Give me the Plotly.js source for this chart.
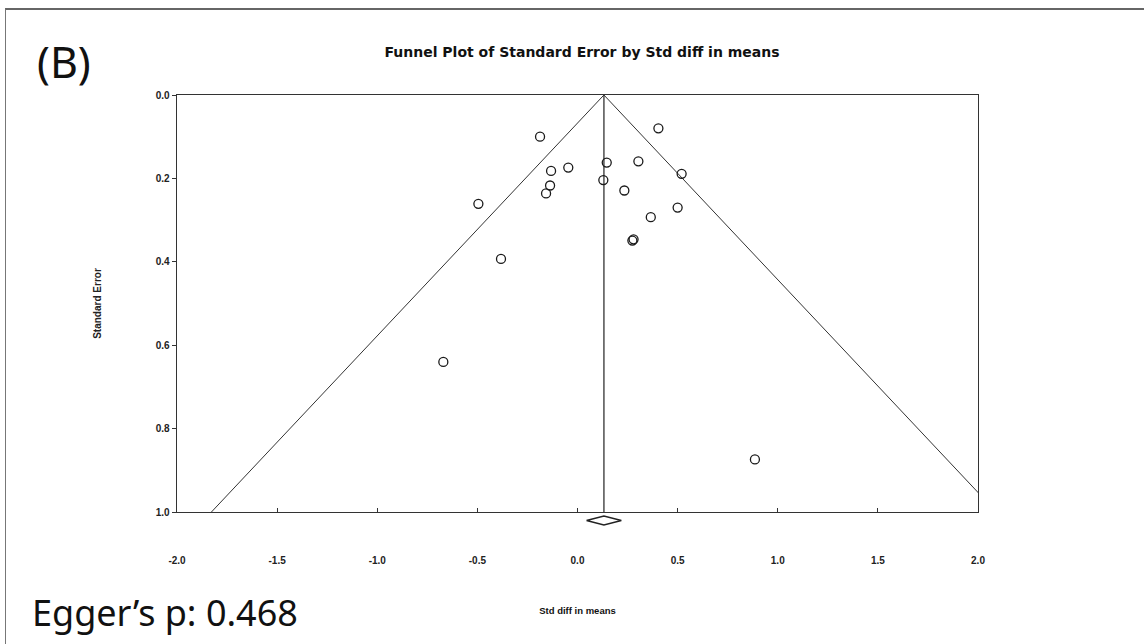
<!DOCTYPE html>
<html>
<head>
<meta charset="utf-8">
<script src="https://cdn.plot.ly/plotly-3.0.1.min.js"></script>
<style>
  html, body { margin: 0; padding: 0; background: #ffffff; }
  #frame { position: absolute; left: 5px; top: 8px; width: 1145px; height: 640px;
           border-top: 2px solid #666666; border-left: 1px solid #777777; }
  #chart { position: absolute; left: 0; top: 0; width: 1144px; height: 644px; }
</style>
</head>
<body>
<div id="frame"></div>
<div id="chart"></div>
<script>
// ---- data ----
const stdDiffInMeans = [-0.187, 0.404, 0.146, 0.304, 0.520, -0.046, -0.132, 0.129, -0.137, -0.157,
                        0.234, -0.495, 0.500, 0.366, 0.274, 0.280, -0.382, -0.670, 0.886];
const standardError  = [0.100, 0.080, 0.162, 0.159, 0.189, 0.174, 0.182, 0.204, 0.217, 0.236,
                        0.229, 0.261, 0.270, 0.293, 0.349, 0.346, 0.393, 0.640, 0.874];
const pooledEstimate = 0.132;
const pooledCI = [0.045, 0.219];
const funnelSE = [0, 1];
const xTickValues = [-2.0, -1.5, -1.0, -0.5, 0.0, 0.5, 1.0, 1.5, 2.0];
const xTickLabels = ['-2.0', '-1.5', '-1.0', '-0.5', '0.0', '0.5', '1.0', '1.5', '2.0'];
const yTickValues = [0.0, 0.2, 0.4, 0.6, 0.8, 1.0];
const yTickLabels = ['0.0', '0.2', '0.4', '0.6', '0.8', '1.0'];
const chartTitle = 'Funnel Plot of Standard Error by Std diff in means';
const xTitle = 'Std diff in means';
const yTitle = 'Standard Error';
const panelLabel = '(B)';
const eggerLabel = 'Egger\u2019s p: 0.468';

// ---- geometry ----
const W = 1144, H = 644;
const M = { l: 177, r: 166, t: 95, b: 110 };
const plotW = W - M.l - M.r, plotH = H - M.t - M.b;
const axisBottomPx = 512;
const yDomLow = (H - M.b - axisBottomPx) / plotH;
const pxPerSE = axisBottomPx - M.t;
const px2paperX = px => (px - M.l) / plotW;
const px2paperY = py => (H - M.b - py) / plotH;
// diamond subplot (below the x axis line)
const dDom = [0, 0.12];
const seAt = py => (py - M.t) / pxPerSE;
const y2Range = [seAt(H - M.b), seAt(H - M.b - dDom[1] * plotH)];
const diamondSE = seAt(520.5);
const diamondHalf = 4.5 / pxPerSE;

const ink = '#1a1a1a';
const tickFont = { family: 'Liberation Sans Narrow, Liberation Sans, Arial, sans-serif', size: 10, color: '#222', weight: 'bold' };

const traces = [
  { // funnel left limit
    x: funnelSE.map(s => pooledEstimate - 1.96 * s), y: funnelSE,
    type: 'scatter', mode: 'lines', line: { color: '#333', width: 1 }, hoverinfo: 'skip', showlegend: false
  },
  { // funnel right limit
    x: funnelSE.map(s => pooledEstimate + 1.96 * s), y: funnelSE,
    type: 'scatter', mode: 'lines', line: { color: '#333', width: 1 }, hoverinfo: 'skip', showlegend: false
  },
  { // pooled estimate line
    x: funnelSE.map(() => pooledEstimate), y: funnelSE,
    type: 'scatter', mode: 'lines', line: { color: '#333', width: 1.3 }, hoverinfo: 'skip', showlegend: false
  },
  { // studies
    x: stdDiffInMeans, y: standardError, type: 'scatter', mode: 'markers',
    marker: { symbol: 'circle-open', size: 9, color: ink, line: { width: 1.3, color: ink } },
    showlegend: false
  },
  { // summary diamond
    x: [pooledCI[0], pooledEstimate, pooledCI[1], pooledEstimate, pooledCI[0]],
    y: [diamondSE, diamondSE - diamondHalf, diamondSE, diamondSE + diamondHalf, diamondSE],
    xaxis: 'x2', yaxis: 'y2', type: 'scatter', mode: 'lines',
    line: { color: '#222', width: 1.3 }, hoverinfo: 'skip', showlegend: false
  }
];

const layout = {
  width: W, height: H,
  margin: M,
  paper_bgcolor: 'rgba(0,0,0,0)', plot_bgcolor: 'rgba(0,0,0,0)',
  showlegend: false,
  title: {
    text: chartTitle, xref: 'paper', x: px2paperX(582), xanchor: 'center',
    yref: 'container', y: 1 - 52 / H, yanchor: 'middle',
    font: { family: 'DejaVu Sans, Liberation Sans, Arial, sans-serif', size: 14, color: '#111', weight: 'bold' }
  },
  xaxis: {
    range: [-2, 2], domain: [0, 1], anchor: 'y',
    tickmode: 'array', tickvals: xTickValues, ticktext: xTickLabels,
    ticks: 'inside', ticklen: 4, tickcolor: '#333', tickwidth: 1,
    ticklabelstandoff: 39,
    showline: true, mirror: true, linecolor: '#333', linewidth: 1.3,
    showgrid: false, zeroline: false, tickfont: tickFont,
    title: { text: xTitle, standoff: 42,
             font: { family: 'Liberation Sans Narrow, Liberation Sans, Arial, sans-serif', size: 9.5, color: '#111', weight: 'bold' } }
  },
  yaxis: {
    range: [1, 0], domain: [yDomLow, 1], anchor: 'x',
    tickmode: 'array', tickvals: yTickValues, ticktext: yTickLabels,
    ticks: 'outside', ticklen: 4, tickcolor: '#333', tickwidth: 1,
    showline: true, mirror: true, linecolor: '#333', linewidth: 1.3,
    showgrid: false, zeroline: false, tickfont: tickFont,
    title: { text: yTitle, standoff: 52,
             font: { family: 'Liberation Sans Narrow, Liberation Sans, Arial, sans-serif', size: 10, color: '#222', weight: 'bold' } }
  },
  xaxis2: { range: [-2, 2], domain: [0, 1], anchor: 'y2', visible: false, fixedrange: true },
  yaxis2: { range: y2Range, domain: dDom, anchor: 'x2', visible: false, fixedrange: true },
  annotations: [
    { text: panelLabel, xref: 'paper', yref: 'paper', x: px2paperX(35), y: px2paperY(62),
      xanchor: 'left', yanchor: 'middle', showarrow: false,
      font: { family: 'Noto Sans, Open Sans, sans-serif', size: 43, color: '#111' } },
    { text: eggerLabel, xref: 'paper', yref: 'paper', x: px2paperX(30), y: px2paperY(612),
      xanchor: 'left', yanchor: 'middle', showarrow: false,
      font: { family: 'Noto Sans, Open Sans, sans-serif', size: 36, color: '#111' } }
  ]
};

Plotly.newPlot('chart', traces, layout, { displayModeBar: false, staticPlot: true });
</script>
</body>
</html>
